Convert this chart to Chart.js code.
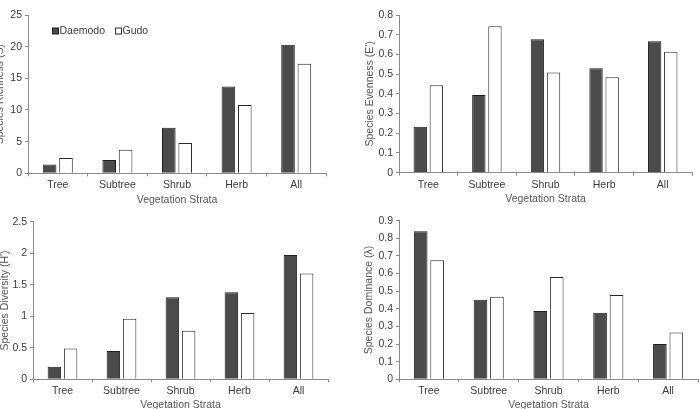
<!DOCTYPE html>
<html>
<head>
<meta charset="utf-8">
<script src="https://cdn.jsdelivr.net/npm/chart.js@4.4.1/dist/chart.umd.min.js"></script>
<style>
html,body{margin:0;padding:0;background:#fff;width:700px;height:409px;overflow:hidden;position:relative;}
canvas{position:absolute;}
</style>
</head>
<body>
<canvas id="c1"></canvas>
<canvas id="c2"></canvas>
<canvas id="c3"></canvas>
<canvas id="c4"></canvas>
<script>
const categories = ["Tree", "Subtree", "Shrub", "Herb", "All"];
const seriesNames = ["Daemodo", "Gudo"];
const xTitle = "Vegetation Strata";

const richnessDaemodo = [1.4, 2.1, 7.2, 13.7, 20.3];
const richnessGudo = [2.4, 3.7, 4.8, 10.8, 17.3];
const evennessDaemodo = [0.233, 0.394, 0.677, 0.53, 0.667];
const evennessGudo = [0.444, 0.743, 0.508, 0.484, 0.614];
const diversityDaemodo = [0.2, 0.45, 1.3, 1.38, 1.97];
const diversityGudo = [0.49, 0.96, 0.77, 1.05, 1.68];
const dominanceDaemodo = [0.84, 0.452, 0.388, 0.378, 0.2];
const dominanceGudo = [0.675, 0.469, 0.58, 0.478, 0.265];

const FONT = "'Liberation Sans', Arial, sans-serif";
const TEXT = "#3a3a3a";
const AXIS = "#8a8a8a";

const legendPlugin = {
  id: 'insideLegend',
  afterDraw(chart) {
    if (!chart.options.plugins.insideLegend || !chart.options.plugins.insideLegend.show) return;
    const ctx = chart.ctx;
    const a = chart.chartArea;
    let x = a.left + 24;
    const y = a.top + 16;
    ctx.save();
    ctx.font = "10.5px " + FONT;
    ctx.textBaseline = 'middle';
    chart.data.datasets.forEach(ds => {
      ctx.fillStyle = ds.backgroundColor;
      ctx.strokeStyle = ds.borderColor;
      ctx.lineWidth = 1;
      ctx.fillRect(x + 0.5, y - 3, 6, 6);
      ctx.strokeRect(x + 0.5, y - 3, 6, 6);
      ctx.fillStyle = TEXT;
      ctx.fillText(ds.label, x + 7.5, y + 0.5);
      x += 7.5 + ctx.measureText(ds.label).width + 10;
    });
    ctx.restore();
  }
};

function makeChart(id, box, daemodo, gudo, yTitle, maxY, step, showLegend) {
  const cv = document.getElementById(id);
  cv.width = box.w; cv.height = box.h;
  cv.style.left = box.x + 'px'; cv.style.top = box.y + 'px';
  cv.style.width = box.w + 'px'; cv.style.height = box.h + 'px';
  return new Chart(cv, {
    type: 'bar',
    data: {
      labels: categories,
      datasets: [
        { label: seriesNames[0], data: daemodo, backgroundColor: '#4b4b4b', borderColor: '#1e1e1e', borderWidth: 1,
          categoryPercentage: 0.55, barPercentage: 0.83 },
        { label: seriesNames[1], data: gudo, backgroundColor: '#ffffff', borderColor: '#2a2a2a', borderWidth: 1,
          categoryPercentage: 0.55, barPercentage: 0.83 }
      ]
    },
    options: {
      responsive: false,
      animation: false,
      devicePixelRatio: 1,
      layout: { padding: { left: box.pl, right: box.pr, top: box.pt, bottom: 0 } },
      plugins: { legend: { display: false }, tooltip: { enabled: false }, insideLegend: { show: showLegend } },
      scales: {
        x: {
          grid: { display: true, drawOnChartArea: false, drawTicks: true, tickLength: 3, color: AXIS, offset: true },
          border: { display: true, color: AXIS, width: 1 },
          ticks: { color: TEXT, font: { family: FONT, size: 10.5 }, padding: 3, maxRotation: 0 },
          title: { display: true, text: xTitle, color: '#555', font: { family: FONT, size: 10.5 }, padding: { top: 2, bottom: 4 } },
          afterFit: s => { s.height = box.xh; }
        },
        y: {
          min: 0, max: maxY,
          grid: { display: true, drawOnChartArea: false, drawTicks: true, tickLength: 3, color: AXIS },
          border: { display: true, color: AXIS, width: 1 },
          ticks: { stepSize: step, color: TEXT, font: { family: FONT, size: 10.5 }, padding: 3,
                   callback: v => String(+Number(v).toFixed(2)) },
          title: { display: true, text: yTitle, color: '#555', font: { family: FONT, size: 10.5 }, padding: { top: 4, bottom: 2 } },
          afterFit: s => { s.width = box.yw; }
        }
      }
    },
    plugins: [legendPlugin]
  });
}

makeChart('c1', { x: -10, y: 0, w: 360, h: 210, pl: 0, pr: 24, pt: 15, yw: 38, xh: 36.7 },
  richnessDaemodo, richnessGudo, "Species Richness (S)", 25, 5, true);
makeChart('c2', { x: 350, y: 0, w: 350, h: 209, pl: 10, pr: 8, pt: 15, yw: 39, xh: 36.3 },
  evennessDaemodo, evennessGudo, "Species Evenness (E')", 0.8, 0.1, false);
makeChart('c3', { x: -5, y: 205, w: 355, h: 210, pl: 0, pr: 22, pt: 16.7, yw: 38, xh: 35.7 },
  diversityDaemodo, diversityGudo, "Species Diversity (H')", 2.5, 0.5, false);
makeChart('c4', { x: 350, y: 205, w: 350, h: 210, pl: 9, pr: 2, pt: 15.7, yw: 40, xh: 35.7 },
  dominanceDaemodo, dominanceGudo, "Species Dominance (λ)", 0.9, 0.1, false);
</script>
</body>
</html>
